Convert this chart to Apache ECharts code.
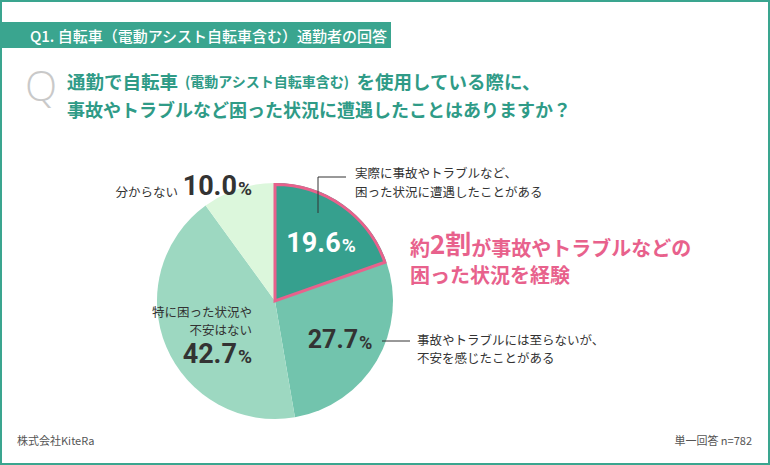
<!DOCTYPE html>
<html>
<head>
<meta charset="utf-8">
<script src="https://cdn.jsdelivr.net/npm/echarts@6/dist/echarts.min.js"></script>
<style>
  html, body { margin: 0; padding: 0; background: #fff; }
  #chart { width: 770px; height: 465px; }
</style>
</head>
<body>
<div id="chart"></div>
<script>
var categories = [
  '実際に事故やトラブルなど、\n困った状況に遭遇したことがある',
  '事故やトラブルには至らないが、\n不安を感じたことがある',
  '特に困った状況や\n不安はない',
  '分からない'
];
var values = [19.6, 27.7, 42.7, 10.0];
var sliceColors = ['#36a08e', '#72c4ad', '#9dd8c1', '#dcf7dc'];
var headerText = 'Q1. 自転車（電動アシスト自転車含む）通勤者の回答';
var questionLine1 = ['通勤で自転車', '(電動アシスト自転車含む)', 'を使用している際に、'];
var questionLine2 = '事故やトラブルなど困った状況に遭遇したことはありますか？';
var calloutText = ['約', '2割', 'が事故やトラブルなどの', '困った状況を経験'];
var sourceText = '株式会社KiteRa';
var sampleText = '単一回答 n=782';

(function() {
  var teal = '#3aa58f';
  var titleInk = '#2f9b87';
  var ink = '#333333';
  var pink = '#e8618c';
  var jp = '"Noto Sans CJK JP", "Noto Sans", sans-serif';
  var num = 'Roboto, "DejaVu Sans", sans-serif';

  function pct(i) { return values[i].toFixed(1); }

  function numText(i, x, y, size, color, align) {
    return {
      type: 'text', silent: true, z: 20,
      style: {
        x: x, y: y, align: align || 'left', verticalAlign: 'bottom',
        text: '{n|' + pct(i) + '}{p|%}',
        fill: color,
        rich: {
          n: { fontFamily: num, fontWeight: 'bold', fontSize: size, lineHeight: size, verticalAlign: 'bottom', fill: color },
          p: { fontFamily: num, fontWeight: 'bold', fontSize: Math.round(size * 0.72), lineHeight: size, verticalAlign: 'bottom', fill: color, padding: [0, 0, 1, 1] }
        }
      }
    };
  }

  function smallText(text, x, y, align, lh) {
    return {
      type: 'text', silent: true, z: 20,
      style: {
        x: x, y: y, align: align || 'left', verticalAlign: 'middle',
        text: text, fill: ink,
        fontFamily: jp, fontSize: 12.5, lineHeight: lh || 18
      }
    };
  }

  var chart = echarts.init(document.getElementById('chart'), null, { renderer: 'svg' });
  chart.setOption({
    animation: false,
    backgroundColor: '#ffffff',
    series: [{
      type: 'pie',
      center: [275, 301],
      radius: [0, 118],
      startAngle: 90,
      clockwise: true,
      silent: true,
      label: { show: false },
      labelLine: { show: false },
      emphasis: { disabled: true },
      data: values.map(function(v, i) {
        return { name: categories[i], value: v, itemStyle: { color: sliceColors[i], borderWidth: 0 } };
      })
    }, {
      type: 'pie',
      center: [275, 301],
      radius: [0, 116.5],
      startAngle: 90,
      clockwise: true,
      silent: true,
      z: 5,
      label: { show: false },
      labelLine: { show: false },
      emphasis: { disabled: true },
      data: values.map(function(v, i) {
        return {
          name: categories[i], value: v,
          itemStyle: i === 0
            ? { color: 'rgba(0,0,0,0)', borderColor: pink, borderWidth: 3, borderJoin: 'miter' }
            : { color: 'rgba(0,0,0,0)', borderWidth: 0 }
        };
      })
    }],
    graphic: [
      // frame
      { type: 'rect', silent: true, shape: { x: 1, y: 1, width: 768, height: 463 },
        style: { fill: 'none', stroke: teal, lineWidth: 2 } },
      // header band
      { type: 'rect', silent: true, shape: { x: 0, y: 22, width: 391, height: 26 },
        style: { fill: teal } },
      { type: 'text', silent: true,
        style: { x: 30, y: 35.5, verticalAlign: 'middle', text: headerText, fill: '#ffffff',
          fontFamily: jp, fontSize: 15, fontWeight: 500 } },
      // Q mark
      { type: 'text', silent: true,
        style: { x: 25, y: 84, verticalAlign: 'middle', text: 'Q', fill: '#c9c9c9',
          fontFamily: '"Open Sans", sans-serif', fontSize: 42, fontWeight: 300 } },
      // question
      { type: 'text', silent: true,
        style: {
          x: 67, y: 79, verticalAlign: 'middle',
          text: '{a|' + questionLine1[0] + '}{b|' + questionLine1[1] + '}{a|' + questionLine1[2] + '}',
          rich: {
            a: { fontFamily: jp, fontSize: 18.5, fontWeight: 'bold', fill: titleInk, lineHeight: 22, verticalAlign: 'bottom' },
            b: { fontFamily: jp, fontSize: 14, fontWeight: 'bold', fill: titleInk, lineHeight: 22, verticalAlign: 'bottom', padding: [0, 7, 2, 7] }
          }
        } },
      { type: 'text', silent: true,
        style: { x: 67, y: 109, verticalAlign: 'middle', text: questionLine2, fill: titleInk,
          fontFamily: jp, fontSize: 18, fontWeight: 'bold' } },
      // labels: 19.6
      numText(0, 321, 256, 27, '#ffffff', 'center'),
      { type: 'polyline', silent: true, z: 20,
        shape: { points: [[318, 213], [318, 177], [346, 177]] },
        style: { stroke: ink, lineWidth: 1, fill: 'none' } },
      smallText(categories[0], 355, 182, 'left', 19),
      // 27.7
      numText(1, 340, 352, 25, ink, 'center'),
      { type: 'line', silent: true, z: 20,
        shape: { x1: 382, y1: 341, x2: 410, y2: 341 },
        style: { stroke: ink, lineWidth: 1 } },
      smallText(categories[1], 417, 348.5, 'left', 17.5),
      // 42.7
      smallText(categories[2], 252, 320.5, 'right', 18),
      numText(2, 252, 367, 27, ink, 'right'),
      // 10.0
      smallText(categories[3], 178, 191, 'right'),
      numText(3, 252, 199, 27, ink, 'right'),
      // callout
      { type: 'text', silent: true,
        style: {
          x: 410, y: 257, verticalAlign: 'bottom',
          text: '{a|' + calloutText[0] + '}{b|' + calloutText[1] + '}{a|' + calloutText[2] + '}',
          rich: {
            a: { fontFamily: jp, fontSize: 20, fontWeight: 'bold', fill: pink, lineHeight: 26, verticalAlign: 'bottom' },
            b: { fontFamily: jp, fontSize: 26, fontWeight: 'bold', fill: pink, lineHeight: 26, verticalAlign: 'bottom', padding: [0, 0, 1, 0] }
          }
        } },
      { type: 'text', silent: true,
        style: { x: 410, y: 264, verticalAlign: 'top', text: calloutText[3], fill: pink,
          fontFamily: jp, fontSize: 20, lineHeight: 20, fontWeight: 'bold' } },
      // footer
      { type: 'text', silent: true,
        style: { x: 17, y: 440, verticalAlign: 'middle', text: sourceText, fill: '#555555',
          fontFamily: jp, fontSize: 11 } },
      { type: 'text', silent: true,
        style: { x: 752, y: 440, align: 'right', verticalAlign: 'middle', text: sampleText, fill: '#555555',
          fontFamily: jp, fontSize: 11 } }
    ]
  });
  window.addEventListener('resize', function() { chart.resize(); });
})();
</script>
</body>
</html>
